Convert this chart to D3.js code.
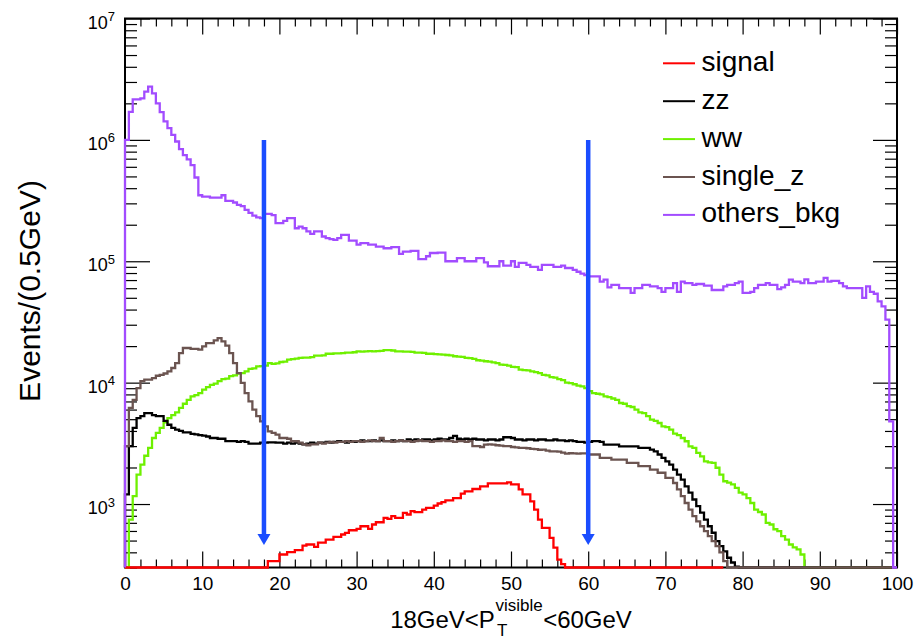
<!DOCTYPE html>
<html>
<head>
<meta charset="utf-8">
<script src="https://cdn.jsdelivr.net/npm/d3@7"></script>
<style>
  body { margin: 0; background: #fff; }
  text { font-family: "Liberation Sans", Arial, Helvetica, sans-serif; }
</style>
</head>
<body>
<script>

// histogram: 200 bins of 0.5 GeV from 0 to 100
const binWidth = 0.5;
const yMin = 300;
const yMax = 1e7;

const xTickLabels = [0, 10, 20, 30, 40, 50, 60, 70, 80, 90, 100];
const yDecades = [3, 4, 5, 6, 7];

const legendNames = ['signal', 'zz', 'ww', 'single_z', 'others_bkg'];

// cut arrows (GeV) and their span in events
const cutValues = [18, 60];
const arrowTop = 1e6;
const arrowTip = 460;

const signal = [
  0, 0, 0, 0, 0, 0, 0, 0, 0, 0,
  0, 0, 0, 0, 0, 0, 0, 0, 0, 0,
  0, 0, 0, 0, 0, 0, 0, 0, 0, 0,
  0, 0, 0, 0, 0, 0, 0, 338, 338, 338,
  384, 384, 401, 401, 417, 417, 455, 464, 464, 444,
  480, 480, 510, 510, 537, 537, 561, 579, 608, 608,
  625, 656, 656, 625, 678, 708, 708, 769, 755, 794,
  769, 769, 847, 820, 873, 857, 857, 900, 931, 931,
  972, 1010, 1035, 1070, 1070, 1120, 1120, 1220, 1270, 1270,
  1330, 1330, 1400, 1400, 1480, 1480, 1480, 1480, 1480, 1510,
  1450, 1450, 1320, 1200, 1200, 1050, 900, 745, 637, 637,
  527, 437, 349, 320, 0, 0, 0, 0, 0, 0,
  0, 0, 0, 0, 0, 0, 0, 0, 0, 0,
  0, 0, 0, 0, 0, 0, 0, 0, 0, 0,
  0, 0, 0, 0, 0, 0, 0, 0, 0, 0,
  0, 0, 0, 0, 0
];

const zz = [
  1200, 3000, 4240, 5100, 5300, 5600, 5600, 5400, 5300, 5300,
  4850, 4500, 4240, 4100, 4000, 3900, 3900, 3780, 3750, 3700,
  3660, 3600, 3500, 3500, 3450, 3450, 3300, 3300, 3300, 3250,
  3300, 3250, 3150, 3150, 3150, 3200, 3200, 3220, 3220, 3200,
  3200, 3150, 3200, 3150, 3200, 3150, 3100, 3150, 3200, 3150,
  3200, 3200, 3250, 3200, 3250, 3300, 3250, 3200, 3300, 3250,
  3300, 3350, 3300, 3300, 3350, 3300, 3350, 3300, 3300, 3350,
  3300, 3350, 3300, 3400, 3350, 3400, 3350, 3400, 3400, 3350,
  3400, 3450, 3400, 3400, 3500, 3650, 3450, 3400, 3450, 3400,
  3450, 3400, 3400, 3350, 3400, 3400, 3350, 3400, 3550, 3550,
  3500, 3400, 3400, 3350, 3400, 3400, 3350, 3400, 3400, 3350,
  3350, 3400, 3350, 3350, 3300, 3350, 3300, 3250, 3250, 3200,
  3250, 3300, 3300, 3250, 3090, 3090, 3090, 3090, 2990, 2990,
  2990, 2990, 2990, 2900, 2900, 2900, 2810, 2720, 2560, 2400,
  2250, 2110, 1920, 1750, 1590, 1400, 1240, 1090, 960, 850,
  745, 656, 580, 494, 450, 408, 361, 330, 305, 0,
  0, 0, 0, 0, 0, 0, 0, 0, 0, 0,
  0, 0, 0, 0, 0, 0, 0, 0, 0, 0,
  0, 0, 0, 0, 0, 0, 0, 0, 0, 0,
  0, 0, 0, 0, 0, 0, 0, 0, 0, 0
];

const ww = [
  0, 745, 1160, 1750, 2110, 2500, 2900, 3500, 3850, 4240,
  4700, 5100, 5400, 5700, 6200, 6700, 7200, 7700, 7900, 8200,
  8750, 9200, 9600, 9800, 10300, 10700, 10800, 11300, 11500, 11900,
  12000, 12400, 13000, 13100, 13600, 13700, 13800, 14500, 14300, 14400,
  14800, 14900, 15500, 15600, 15800, 16000, 16100, 16100, 16200, 16700,
  16700, 16800, 17300, 17300, 17400, 17400, 17500, 17700, 17700, 17800,
  18100, 18000, 18100, 18200, 18100, 18200, 18300, 18500, 18500, 18400,
  18100, 18100, 18000, 18000, 17900, 17700, 17700, 17600, 17300, 17300,
  17200, 17100, 17000, 16900, 16800, 16500, 16400, 16300, 16000, 15900,
  15700, 15300, 15200, 15000, 14900, 14700, 14500, 14100, 14000, 13800,
  13500, 13400, 12800, 12700, 12600, 12400, 12200, 12000, 11600, 11500,
  11100, 11000, 10700, 10500, 10000, 9900, 9700, 9450, 9300, 9000,
  8500, 8200, 8100, 8000, 7700, 7600, 7400, 7200, 6800, 6700,
  6400, 6300, 6000, 5700, 5600, 5300, 4950, 4850, 4650, 4360,
  4300, 4100, 3800, 3700, 3500, 3290, 2990, 2900, 2640, 2470,
  2250, 2200, 2180, 1990, 1750, 1540, 1500, 1450, 1360, 1240,
  1200, 1120, 1020, 900, 860, 820, 700, 678, 620, 597,
  543, 510, 464, 440, 423, 384, 0, 0, 0, 0,
  0, 0, 0, 0, 0, 0, 0, 0, 0, 0,
  0, 0, 0, 0, 0, 0, 0, 0, 0, 0
];

const singleZ = [
  3000, 6200, 7200, 9000, 10300, 10600, 10600, 10900, 11400, 11600,
  11900, 12400, 13200, 14500, 17500, 19300, 19300, 19000, 19000, 18700,
  19900, 21200, 21200, 22300, 23300, 21900, 20200, 17500, 14500, 12000,
  9950, 8200, 7000, 6000, 5300, 4800, 4360, 3970, 3850, 3730,
  3500, 3500, 3450, 3290, 3290, 3200, 3100, 3050, 3100, 3100,
  3200, 3150, 3200, 3250, 3200, 3250, 3250, 3300, 3250, 3300,
  3300, 3250, 3300, 3350, 3300, 3300, 3500, 3300, 3300, 3250,
  3300, 3350, 3300, 3300, 3250, 3300, 3350, 3300, 3300, 3250,
  3300, 3300, 3350, 3300, 3300, 3250, 3300, 3300, 3250, 3300,
  3000, 3000, 2950, 3090, 3100, 3090, 3050, 3030, 3000, 3000,
  2950, 2930, 2900, 2900, 2880, 2850, 2830, 2800, 2810, 2750,
  2720, 2720, 2700, 2650, 2600, 2620, 2610, 2600, 2610, 2610,
  2560, 2560, 2560, 2400, 2400, 2400, 2320, 2320, 2320, 2320,
  2180, 2180, 2180, 2050, 2050, 2050, 1920, 1920, 1810, 1810,
  1640, 1640, 1490, 1320, 1160, 1020, 900, 794, 721, 656,
  597, 543, 494, 450, 400, 338, 0, 0, 0, 0,
  0, 0, 0, 0, 0, 0, 0, 0, 0, 0,
  0, 0, 0, 0, 0, 0, 0, 0, 0, 0,
  0, 0, 0, 0, 0, 0, 0, 0, 0, 0,
  0, 0, 0, 0, 0, 0, 0, 0, 0, 0
];

const othersBkg = [
  1.0e6, 1.7e6, 2.16e6, 2.16e6, 2.2e6, 2.5e6, 2.75e6, 2.42e6, 2.0e6, 1.69e6,
  1.42e6, 1.25e6, 1.1e6, 9.7e5, 8.4e5, 7.5e5, 6.9e5, 6.2e5, 4.9e5, 3.5e5,
  3.41e5, 3.41e5, 3.35e5, 3.35e5, 3.35e5, 3.5e5, 3.15e5, 3.15e5, 3.05e5, 2.92e5,
  2.85e5, 2.65e5, 2.5e5, 2.38e5, 2.3e5, 2.27e5, 2.46e5, 2.46e5, 2.4e5, 2.06e5,
  2.06e5, 2.15e5, 2.27e5, 2.27e5, 1.87e5, 1.93e5, 1.87e5, 1.76e5, 1.68e5, 1.76e5,
  1.76e5, 1.6e5, 1.55e5, 1.52e5, 1.5e5, 1.55e5, 1.65e5, 1.65e5, 1.48e5, 1.48e5,
  1.37e5, 1.41e5, 1.41e5, 1.37e5, 1.37e5, 1.32e5, 1.32e5, 1.28e5, 1.28e5, 1.31e5,
  1.31e5, 1.15e5, 1.2e5, 1.2e5, 1.22e5, 1.22e5, 1.04e5, 1.04e5, 1.1e5, 1.17e5,
  1.17e5, 1.18e5, 1.18e5, 1.0e5, 1.0e5, 1.0e5, 1.06e5, 1.06e5, 1.0e5, 1.0e5,
  1.0e5, 1.06e5, 1.06e5, 9.8e4, 9.1e4, 9.1e4, 9.1e4, 1.0e5, 9.2e4, 9.2e4,
  1.0e5, 9.0e4, 9.7e4, 9.7e4, 9.35e4, 9.0e4, 9.0e4, 8.5e4, 9.35e4, 9.35e4,
  9.35e4, 9.0e4, 9.0e4, 9.2e4, 8.8e4, 8.8e4, 8.5e4, 8.2e4, 7.9e4, 7.7e4,
  7.5e4, 7.5e4, 7.5e4, 6.8e4, 7.05e4, 6.1e4, 6.4e4, 6.4e4, 6.0e4, 6.0e4,
  6.0e4, 5.5e4, 6.0e4, 6.0e4, 6.4e4, 6.4e4, 6.2e4, 6.2e4, 6.0e4, 5.6e4,
  6.0e4, 6.0e4, 6.6e4, 5.6e4, 6.8e4, 6.6e4, 6.6e4, 6.4e4, 6.5e4, 6.5e4,
  6.3e4, 6.3e4, 5.8e4, 5.8e4, 5.8e4, 6.2e4, 6.4e4, 6.4e4, 6.6e4, 6.8e4,
  5.5e4, 5.5e4, 5.6e4, 6.0e4, 6.4e4, 6.4e4, 6.6e4, 6.4e4, 6.4e4, 5.9e4,
  6.1e4, 6.4e4, 7.05e4, 6.8e4, 6.8e4, 6.6e4, 7.1e4, 6.6e4, 6.6e4, 6.8e4,
  6.8e4, 7.3e4, 6.8e4, 6.9e4, 6.9e4, 6.6e4, 6.2e4, 6.0e4, 6.0e4, 6.0e4,
  6.0e4, 5.0e4, 6.2e4, 5.6e4, 5.4e4, 4.67e4, 4.25e4, 3.3e4, 4.8e3, 0
];

const colors = {
  signal: '#ff0000',
  zz: '#000000',
  ww: '#6ef000',
  single_z: '#6b5450',
  others_bkg: '#a24cff',
  arrow: '#1a4dff'
};


function draw() {
  const width = 916;
  const height = 638;

  const svg = d3.select('body').append('svg')
    .attr('width', width)
    .attr('height', height)
    .style('background', '#fff');

  const X = d3.scaleLinear()
    .domain([0, 100])
    .range([125, 897]);

  const Y = d3.scaleLog()
    .domain([yMin, yMax])
    .range([567.5, 18.5]);

  const yBase = Y(yMin);

  // values under the minimum sit on the bottom of the frame, like root does in log
  const stepLine = d3.line()
    .x(d => X(d[0]))
    .y(d => d[1] > yMin ? Y(d[1]) : yBase);

  function stepPoints(vals) {
    const pts = [[0, 0]];
    vals.forEach((v, i) => {
      pts.push([i * binWidth, v]);
      pts.push([(i + 1) * binWidth, v]);
    });
    pts.push([vals.length * binWidth, 0]);
    return pts;
  }

  // tick positions
  const xMinor = d3.range(0, 101, 2).filter(v => v % 10 !== 0);
  const yMajor = yDecades.map(e => Math.pow(10, e));
  const yMinor = [];
  d3.range(2, 7).forEach(e => {
    d3.range(2, 10).forEach(m => {
      const v = m * Math.pow(10, e);
      if (v >= yMin && v < yMax) yMinor.push(v);
    });
  });

  const styleAxis = g => {
    g.select('.domain').remove();
    g.selectAll('.tick line').attr('stroke', '#000').attr('stroke-width', 1.2);
    g.selectAll('.tick text').attr('fill', '#000');
    g.attr('font-family', '"Liberation Sans", Arial, Helvetica, sans-serif');
  };

  // frame first, histograms are painted over it
  svg.append('rect')
    .attr('x', X(0))
    .attr('y', Y(yMax))
    .attr('width', X(100) - X(0))
    .attr('height', yBase - Y(yMax))
    .attr('fill', 'none')
    .attr('stroke', '#000')
    .attr('stroke-width', 2);

  // bottom axis
  svg.append('g')
    .attr('transform', `translate(0 ${yBase})`)
    .call(d3.axisBottom(X).tickValues(xTickLabels).tickSizeInner(-16).tickSizeOuter(0).tickPadding(9))
    .call(styleAxis)
    .attr('font-size', 19);

  svg.append('g')
    .attr('transform', `translate(0 ${yBase})`)
    .call(d3.axisBottom(X).tickValues(xMinor).tickFormat('').tickSizeInner(-8).tickSizeOuter(0))
    .call(styleAxis);

  // top axis (mirror ticks)
  svg.append('g')
    .attr('transform', `translate(0 ${Y(yMax)})`)
    .call(d3.axisTop(X).tickValues(xTickLabels).tickFormat('').tickSizeInner(-16).tickSizeOuter(0))
    .call(styleAxis);

  svg.append('g')
    .attr('transform', `translate(0 ${Y(yMax)})`)
    .call(d3.axisTop(X).tickValues(xMinor).tickFormat('').tickSizeInner(-8).tickSizeOuter(0))
    .call(styleAxis);

  // left and right axes
  svg.append('g')
    .attr('transform', `translate(${X(0)} 0)`)
    .call(d3.axisLeft(Y).tickValues(yMajor).tickFormat('').tickSizeInner(-25).tickSizeOuter(0))
    .call(styleAxis);

  svg.append('g')
    .attr('transform', `translate(${X(0)} 0)`)
    .call(d3.axisLeft(Y).tickValues(yMinor).tickFormat('').tickSizeInner(-12).tickSizeOuter(0))
    .call(styleAxis);

  svg.append('g')
    .attr('transform', `translate(${X(100)} 0)`)
    .call(d3.axisRight(Y).tickValues(yMajor).tickFormat('').tickSizeInner(-24).tickSizeOuter(0))
    .call(styleAxis);

  svg.append('g')
    .attr('transform', `translate(${X(100)} 0)`)
    .call(d3.axisRight(Y).tickValues(yMinor).tickFormat('').tickSizeInner(-12).tickSizeOuter(0))
    .call(styleAxis);

  // y labels as 10^n
  const yLab = svg.append('g').selectAll('text')
    .data(yDecades)
    .join('text')
    .attr('x', X(0) - 10)
    .attr('y', e => Y(Math.pow(10, e)) + 10)
    .attr('text-anchor', 'end')
    .attr('font-size', 18)
    .attr('fill', '#000');
  yLab.append('tspan').text('10');
  yLab.append('tspan')
    .attr('font-size', 13)
    .attr('dy', -7.5)
    .text(e => e);

  // histograms; others_bkg last so its left edge stays on top
  const drawOrder = [
    ['ww', ww],
    ['zz', zz],
    ['single_z', singleZ],
    ['signal', signal],
    ['others_bkg', othersBkg]
  ];

  drawOrder.forEach(([name, vals]) => {
    svg.append('path')
      .attr('d', stepLine(stepPoints(vals)))
      .attr('fill', 'none')
      .attr('stroke', colors[name])
      .attr('stroke-width', 2.3)
      .attr('stroke-linejoin', 'miter');
  });

  // cut arrows
  cutValues.forEach(c => {
    const xc = X(c);
    const tip = Y(arrowTip);
    svg.append('line')
      .attr('x1', xc).attr('x2', xc)
      .attr('y1', Y(arrowTop)).attr('y2', tip - 8)
      .attr('stroke', colors.arrow)
      .attr('stroke-width', 4.5);
    svg.append('path')
      .attr('d', `M${xc - 6.5},${tip - 11}L${xc + 6.5},${tip - 11}L${xc},${tip}Z`)
      .attr('fill', colors.arrow);
  });

  // legend
  const legend = svg.append('g');
  legendNames.forEach((name, i) => {
    const ly = 63.3 + i * 37.9;
    legend.append('line')
      .attr('x1', 663).attr('x2', 695)
      .attr('y1', ly).attr('y2', ly)
      .attr('stroke', colors[name])
      .attr('stroke-width', 2);
    legend.append('text')
      .attr('x', 701.5)
      .attr('y', ly + 7.5)
      .attr('font-size', 28)
      .attr('fill', '#000')
      .text(name);
  });

  // y title
  svg.append('text')
    .attr('transform', 'translate(40 291) rotate(-90)')
    .attr('text-anchor', 'middle')
    .attr('font-size', 30)
    .attr('fill', '#000')
    .text('Events/(0.5GeV)');

  // x title with super and subscript
  const xt = svg.append('g');
  const base = 627.5;
  const t1 = xt.append('text').attr('y', base).attr('font-size', 24).text('18GeV<P');
  const tSup = xt.append('text').attr('y', base - 16.5).attr('font-size', 17).text('visible');
  const tSub = xt.append('text').attr('y', base + 8).attr('font-size', 17).text('T');
  const t2 = xt.append('text').attr('y', base).attr('font-size', 24).text('<60GeV');
  const w1 = t1.node().getComputedTextLength();
  const wS = Math.max(tSup.node().getComputedTextLength(), tSub.node().getComputedTextLength());
  const w2 = t2.node().getComputedTextLength();
  const total = w1 + wS + 1 + w2;
  const x0 = (X(0) + X(100)) / 2 - total / 2;
  t1.attr('x', x0);
  tSup.attr('x', x0 + w1 + 0.5);
  tSub.attr('x', x0 + w1 + 2);
  t2.attr('x', x0 + w1 + wS + 1);
  xt.selectAll('text').attr('fill', '#000');
}

draw();
</script>
</body>
</html>
